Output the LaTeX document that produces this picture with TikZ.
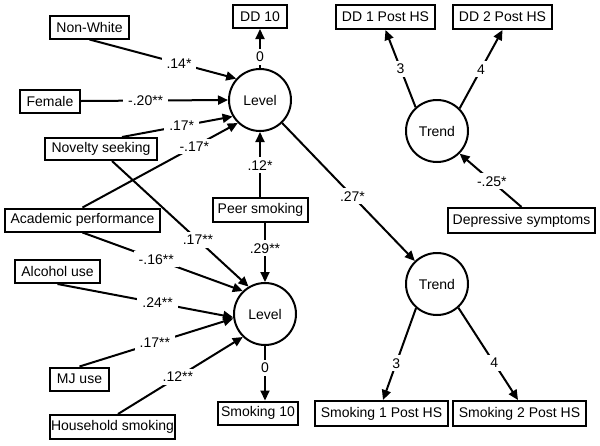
\documentclass[tikz,border=0pt]{standalone}
\usepackage{fontspec}
\setmainfont{Liberation Sans}
\usetikzlibrary{arrows.meta}
\begin{document}
\begin{tikzpicture}[x=1pt,y=-1pt,
  font=\fontsize{14}{16}\selectfont,
  box/.style={draw,line width=2pt,inner sep=0pt,minimum height=23pt},
  latent/.style={draw,circle,line width=2pt,minimum size=62pt,inner sep=0pt},
  arr/.style={line width=2pt,-{Triangle[length=10pt,width=9pt]}},
  lbl/.style={fill=white,inner xsep=5pt,inner ysep=3pt}]
\useasboundingbox (0,0) rectangle (600,445);
% latent variables
\node[latent] (L1) at (260,100) {Level};
\node[latent] (L2) at (265,314) {Level};
\node[latent] (T1) at (437,131) {Trend};
\node[latent] (T2) at (437,284) {Trend};
% observed boxes
\node[box,minimum width=54pt] (dd10) at (260,16.5) {DD 10};
\node[box,minimum width=99pt,minimum height=24pt] (dd1) at (385.5,17) {DD 1 Post HS};
\node[box,minimum width=99pt,minimum height=24pt] (dd2) at (502.5,17) {DD 2 Post HS};
\node[box,minimum width=79pt] (nw) at (89.5,27) {Non-White};
\node[box,minimum width=60pt] (fem) at (50,101) {Female};
\node[box,minimum width=112pt,minimum height=22pt] (nov) at (101,149) {Novelty seeking};
\node[box,minimum width=155pt] (acad) at (82.5,220) {Academic performance};
\node[box,minimum width=95pt,minimum height=24pt] (peer) at (260.5,210) {Peer smoking};
\node[box,minimum width=147pt,minimum height=25pt] (dep) at (521.5,220.5) {Depressive symptoms};
\node[box,minimum width=85pt] (alc) at (57.5,271.5) {Alcohol use};
\node[box,minimum width=59pt] (mj) at (79.5,379) {MJ use};
\node[box,minimum width=125pt,minimum height=24pt] (hh) at (112.5,427) {Household smoking};
\node[box,minimum width=80pt] (s10) at (258,413) {Smoking 10};
\node[box,minimum width=133pt,minimum height=25pt] (s1) at (381.5,413.5) {Smoking 1 Post HS};
\node[box,minimum width=133pt,minimum height=25pt] (s2) at (519.5,413.5) {Smoking 2 Post HS};
% paths to upper Level
\draw[arr] (L1.north) -- node[lbl,pos=0.29]{0} (dd10.south);
\draw[arr] (nw.south) -- node[lbl,pos=0.61]{.14*} (L1.138);
\draw[arr] (fem.east) -- node[lbl,pos=0.44]{-.20**} (L1.west);
\draw[arr] ([xshift=21pt]nov.north) -- node[lbl,pos=0.54]{.17*} (L1.211);
\draw[arr] (acad.north) -- node[lbl,pos=0.72]{-.17*} (L1.226);
\draw[arr] (L1.south |- peer.north) -- node[lbl,pos=0.49]{.12*} (L1.south);
% paths to lower Level
\draw[arr] (L2.north |- peer.south) -- node[lbl,pos=0.43]{.29**} (L2.north);
\draw[arr] ([xshift=11pt]nov.south) -- node[lbl,pos=0.63]{.17**} (L2.121);
\draw[arr] (acad.south) -- node[lbl,pos=0.46]{-.16**} (L2.134);
\draw[arr] (alc.south) -- node[lbl,pos=0.57]{.24**} (L2.186);
\draw[arr] (mj.north) -- node[lbl,pos=0.49]{.17**} (L2.188);
\draw[arr] ([xshift=5.5pt]hh.north) -- node[lbl,pos=0.48]{.12**} (L2.226);
\draw[arr] (L2.south) -- node[lbl,pos=0.4]{0} (L2.south |- s10.north);
% trends
\draw[arr] (L1) -- node[lbl,pos=0.53]{.27*} (T2);
\draw[arr] (T1.132) -- node[lbl,pos=0.5]{3} (dd1.south);
\draw[arr] (T1.45) -- node[lbl,pos=0.5]{4} (dd2.south);
\draw[arr] (dep.north) -- node[lbl,pos=0.48]{-.25*} (T1.-45);
\draw[arr] (T2.229) -- node[lbl,pos=0.6]{3} ([xshift=1.5pt]s1.north);
\draw[arr] (T2.-48) -- node[lbl,pos=0.6]{4} ([xshift=-1.5pt]s2.north);
\end{tikzpicture}
\end{document}
